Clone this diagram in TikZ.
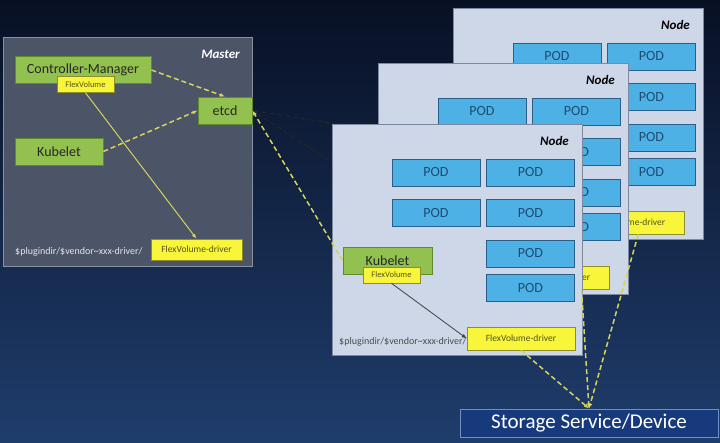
\documentclass[tikz,border=0pt]{standalone}
\usepackage{fontspec}
\setmainfont{Carlito}
\usetikzlibrary{arrows.meta}
\pgfdeclarelayer{back}
\pgfsetlayers{back,main}
\definecolor{bgtop}{HTML}{081024}
\definecolor{bgbot}{HTML}{1F3D6C}
\definecolor{masterfill}{HTML}{4C5468}
\definecolor{masterline}{HTML}{8A90A0}
\definecolor{greenfill}{HTML}{92C150}
\definecolor{greenline}{HTML}{5E8A30}
\definecolor{yelfill}{HTML}{F8F53A}
\definecolor{yelline}{HTML}{8F8F2A}
\definecolor{yeltext}{HTML}{55551C}
\definecolor{panelfill}{HTML}{CED7E7}
\definecolor{panelline}{HTML}{7C89A0}
\definecolor{podfill}{HTML}{4DB1E5}
\definecolor{podline}{HTML}{2A5F8A}
\definecolor{podtext}{HTML}{1D4C74}
\definecolor{storefill}{HTML}{173A7C}
\definecolor{storeline}{HTML}{7090C2}
\definecolor{dashyel}{HTML}{D6D35A}
\tikzset{
  master/.style={draw=masterline, fill=masterfill, line width=0.8pt, minimum width=249pt, minimum height=229pt, inner sep=0pt, anchor=north west},
  panel/.style={draw=panelline, fill=panelfill, line width=0.8pt, minimum width=250pt, minimum height=231pt, inner sep=0pt, anchor=north west},
  title/.style={font=\fontsize{13}{15}\selectfont\bfseries\itshape, anchor=east, inner sep=0pt},
  comp/.style={draw=greenline, fill=greenfill, line width=0.8pt, text=black!85, font=\fontsize{14}{16}\selectfont, minimum height=27pt, inner sep=0pt},
  flex/.style={draw=yelline, fill=yelfill, line width=0.6pt, text=yeltext, font=\fontsize{8.5}{10}\selectfont, minimum width=57pt, minimum height=16pt, inner sep=0pt},
  driver/.style={flex, font=\fontsize{9.5}{11}\selectfont, minimum width=108pt, minimum height=23pt},
  pod/.style={draw=podline, fill=podfill, line width=0.8pt, text=podtext, font=\fontsize{14}{16}\selectfont, minimum width=88pt, minimum height=27pt, inner sep=0pt},
  dirtext/.style={font=\fontsize{10}{12}\selectfont, text=black!70, anchor=west, inner sep=0pt},
  store/.style={draw=storeline, fill=storefill, line width=1pt, text=white, font=\fontsize{21}{24}\selectfont, minimum width=258pt, minimum height=28pt, inner sep=0pt},
  link/.style={draw=dashyel, line width=1.5pt, dash pattern=on 5pt off 3pt, -{Latex[length=5pt,width=4pt]}},
  feed/.style={draw=dashyel, line width=1pt, -{Latex[length=5pt,width=4pt]}},
}
\begin{document}
\begin{tikzpicture}[x=1pt, y=-1pt]
  \useasboundingbox (0,0) rectangle (720,442);
  \begin{pgfonlayer}{back}
    \shade[top color=bgtop, bottom color=bgbot] (0,0) rectangle (720,442);
  \end{pgfonlayer}
  \node[master] (master) at (3,37) {};
  \node[title, text=white] (labelm) at (240,54) {Master};
  \node[comp, minimum width=136pt] (cm) at (83,70) {Controller-Manager};
  \node[flex] (flexm) at (85.5,84.5) {FlexVolume};
  \node[comp, minimum width=54pt] (etcd) at (225,110.5) {etcd};
  \node[comp, minimum width=88pt] (kubeletm) at (59,151.5) {Kubelet};
  \node[dirtext, text=white!90!black] (dirm) at (15,252) {\$plugindir/\$vendor\textasciitilde xxx-driver/};
  \node[driver, minimum width=91pt, minimum height=21pt] (driverm) at (196.5,249.5) {FlexVolume-driver};
  \foreach \n/\ox/\oy/\dx in {1/453/8/177, 2/378/63/177, 3/332/124/189} {
    \begin{scope}[shift={(\ox,\oy)}]
      \node[panel] (node\n) at (0,0) {};
      \node[title] (label\n) at (237,17) {Node};
      \node[pod] (pod\n-1) at (104,48.5) {POD};
      \node[pod] (pod\n-2) at (198.5,48.5) {POD};
      \node[pod] (pod\n-3) at (104,89) {POD};
      \node[pod] (pod\n-4) at (198.5,89) {POD};
      \node[pod] (pod\n-5) at (198.5,129.5) {POD};
      \node[pod] (pod\n-6) at (198.5,164) {POD};
      \node[comp, minimum width=89pt] (kubelet\n) at (55.5,136.5) {Kubelet};
      \node[flex] (flex\n) at (59.5,151) {FlexVolume};
      \node[dirtext] (dir\n) at (7,218) {\$plugindir/\$vendor\textasciitilde xxx-driver/};
      \node[driver] (driver\n) at (\dx,214.5) {FlexVolume-driver};
      \draw[black!75, line width=0.8pt, -{Latex[length=5pt,width=4pt]}] (flex\n.south) -- (driver\n.west);
    \end{scope}
  }
  \node[store] (store) at (589,423) {Storage Service/Device};
  \draw[link] (cm.east) -- (etcd.north);
  \draw[link] (kubeletm.east) -- (etcd.west);
  \draw[feed] (flexm.south) -- (driverm.north);
  \begin{pgfonlayer}{back}
    \draw[link, draw=black!85, line width=1pt] (kubelet1.west) -- (etcd.east);
    \draw[link, draw=black!85, line width=1pt] (kubelet2.west) -- (etcd.east);
  \end{pgfonlayer}
  \draw[link] (kubelet3.west) -- (etcd.east);
  \draw[link] (driver1.-55) -- (store.north);
  \draw[link] (driver2.-24) -- (store.north);
  \draw[link] (driver3.south) -- (store.north);
\end{tikzpicture}
\end{document}
